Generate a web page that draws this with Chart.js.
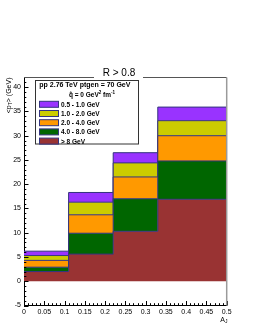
<!DOCTYPE html>
<html><head><meta charset="utf-8">
<script src="https://cdn.jsdelivr.net/npm/chart.js@4"></script>
<style>html,body{margin:0;padding:0;background:#fff}canvas{display:block}</style>
</head><body>
<canvas id="c" width="258" height="333" style="width:258px;height:333px"></canvas>
<script>
// ---- data ----
const binEdges = [0, 0.11, 0.22, 0.33, 0.5];
const seriesLabels = ['> 8 GeV', '4.0 - 8.0 GeV', '2.0 - 4.0 GeV', '1.0 - 2.0 GeV', '0.5 - 1.0 GeV'];
const above8 = [2.0, 5.6, 10.3, 16.9];
const pt4to8 = [0.9, 4.3, 6.7, 7.9];
const pt2to4 = [1.4, 3.8, 4.5, 5.2];
const pt1to2 = [1.0, 2.6, 2.9, 3.1];
const pt05to1 = [0.9, 2.0, 2.1, 2.8];
const seriesColors = ['#993333', '#006600', '#ff9900', '#cccc00', '#9933ff'];
const yTicks = [-5, 0, 5, 10, 15, 20, 25, 30, 35, 40];
const xTicks = [0, 0.05, 0.1, 0.15, 0.2, 0.25, 0.3, 0.35, 0.4, 0.45, 0.5];
const xTickLabels = ['0', '0.05', '0.1', '0.15', '0.2', '0.25', '0.3', '0.35', '0.4', '0.45', '0.5'];
const titleText = 'R > 0.8';

const FONT = '"Liberation Sans", Arial, Helvetica, sans-serif';
const LINE = '#34347f';

// cumulative stacks as step outlines
const series = [above8, pt4to8, pt2to4, pt1to2, pt05to1];
const cum = [];
series.forEach((s, k) => {
  cum.push(s.map((v, i) => v + (k ? cum[k - 1][i] : 0)));
});
function stepPoints(vals) {
  const pts = [];
  vals.forEach((v, i) => {
    pts.push({x: binEdges[i], y: v});
    pts.push({x: binEdges[i + 1], y: v});
  });
  return pts;
}
const datasets = cum.map((c, k) => ({
  label: seriesLabels[k],
  data: stepPoints(c),
  backgroundColor: seriesColors[k],
  borderColor: LINE,
  borderWidth: 1,
  pointRadius: 0,
  tension: 0,
  fill: k === 0 ? 'origin' : '-1'
}));

function drawRuns(ctx, runs, x, y, align) {
  let w = 0;
  runs.forEach(r => { ctx.font = (r.bold ? 'bold ' : '') + r.size + 'px ' + FONT; w += ctx.measureText(r.t).width; });
  let cx = align === 'right' ? x - w : align === 'center' ? x - w / 2 : x;
  ctx.textAlign = 'left';
  ctx.textBaseline = 'alphabetic';
  runs.forEach(r => {
    ctx.font = (r.bold ? 'bold ' : '') + r.size + 'px ' + FONT;
    ctx.fillText(r.t, cx, y + (r.dy || 0));
    cx += ctx.measureText(r.t).width;
  });
}

const deco = {
  id: 'deco',
  afterDatasetsDraw(chart) {
    const ctx = chart.ctx, xs = chart.scales.x, ys = chart.scales.y, a = chart.chartArea;
    ctx.save();
    ctx.strokeStyle = '#000';
    ctx.lineWidth = 1;
    ctx.beginPath();
    for (let v = -5; v <= 41; v++) {
      const py = Math.round(ys.getPixelForValue(v)) + 0.5;
      const L = (v % 5 === 0) ? 4.5 : 2.3;
      ctx.moveTo(a.left, py); ctx.lineTo(a.left + L, py);
    }
    for (let i = 0; i <= 50; i++) {
      const px = Math.round(xs.getPixelForValue(i / 100)) + 0.5;
      const L = (i % 5 === 0) ? 4.5 : 2.3;
      ctx.moveTo(px, a.bottom); ctx.lineTo(px, a.bottom - L);
    }
    ctx.stroke();
    ctx.restore();
  },
  afterDraw(chart) {
    const ctx = chart.ctx, a = chart.chartArea;
    ctx.save();
    // frame
    ctx.strokeStyle = '#555';
    ctx.lineWidth = 1;
    ctx.beginPath(); ctx.moveTo(a.left, 77.5); ctx.lineTo(a.right, 77.5); ctx.stroke();
    ctx.strokeStyle = '#9a9a9a';
    ctx.lineWidth = 1.5;
    ctx.beginPath(); ctx.moveTo(a.right, a.top); ctx.lineTo(a.right, a.bottom); ctx.stroke();
    // title
    ctx.fillStyle = '#fff';
    ctx.fillRect(94, 64, 49, 15);
    ctx.fillStyle = '#000';
    drawRuns(ctx, [{t: titleText, size: 10}], 119, 76.3, 'center');
    // legend
    ctx.fillStyle = '#fff';
    ctx.fillRect(35.5, 80.5, 103, 63.5);
    ctx.strokeStyle = '#333';
    ctx.lineWidth = 1;
    ctx.strokeRect(35.5, 80.5, 103, 63.5);
    ctx.fillStyle = '#000';
    drawRuns(ctx, [{t: 'pp 2.76 TeV ptgen = 70 GeV', size: 7, bold: true}], 39.3, 86.8, 'left');
    drawRuns(ctx, [
      {t: 'q\u0302 = 0 GeV', size: 6.5, bold: true},
      {t: '2', size: 4.5, dy: -2.5, bold: true},
      {t: ' fm', size: 6.5, bold: true},
      {t: '-1', size: 4.5, dy: -2.5, bold: true}
    ], 92, 96.6, 'center');
    for (let i = 0; i < 5; i++) {
      const k = 4 - i;
      const cy = 104.3 + i * 9.2;
      ctx.fillStyle = seriesColors[k];
      ctx.fillRect(39.5, cy - 3, 19, 6);
      ctx.strokeStyle = LINE;
      ctx.lineWidth = 1;
      ctx.strokeRect(39.5, cy - 3, 19, 6);
      ctx.fillStyle = '#000';
      drawRuns(ctx, [{t: seriesLabels[k], size: 6.5, bold: true}], 61, cy + 2.4, 'left');
    }
    // y title
    ctx.save();
    ctx.translate(10.5, 77.5);
    ctx.rotate(-Math.PI / 2);
    drawRuns(ctx, [{t: '<p', size: 7}, {t: 'T', size: 5, dy: 1.6}, {t: '> (GeV)', size: 7}], 0, 0, 'right');
    ctx.restore();
    // x title
    drawRuns(ctx, [{t: 'A', size: 7}, {t: 'J', size: 5, dy: 1.6}], 227.5, 321.5, 'right');
    ctx.restore();
  }
};

new Chart(document.getElementById('c'), {
  type: 'line',
  data: {datasets},
  options: {
    responsive: false,
    animation: false,
    devicePixelRatio: 1,
    layout: {padding: {left: 0, right: 31.3, top: 77.5, bottom: 0}},
    plugins: {legend: {display: false}, title: {display: false}, tooltip: {enabled: false}},
    scales: {
      x: {
        type: 'linear', min: 0, max: 0.5,
        grid: {display: false, drawTicks: false, tickLength: 0},
        border: {display: true, color: '#000', width: 1},
        afterBuildTicks: s => { s.ticks = xTicks.map(v => ({value: v})); },
        afterFit: s => { s.height = 27.5; },
        ticks: {
          autoSkip: false, maxRotation: 0, minRotation: 0, padding: 2, color: '#000',
          font: {family: FONT, size: 7},
          callback: (v, i) => xTickLabels[i]
        }
      },
      y: {
        type: 'linear', min: -5, max: 42,
        grid: {display: false, drawTicks: false, tickLength: 0},
        border: {display: true, color: '#000', width: 1},
        afterBuildTicks: s => { s.ticks = yTicks.map(v => ({value: v})); },
        afterFit: s => { s.width = 24; },
        ticks: {
          autoSkip: false, padding: 3, color: '#000',
          font: {family: FONT, size: 7},
          callback: (v, i) => String(yTicks[i])
        }
      }
    }
  },
  plugins: [deco]
});
</script>
</body></html>
